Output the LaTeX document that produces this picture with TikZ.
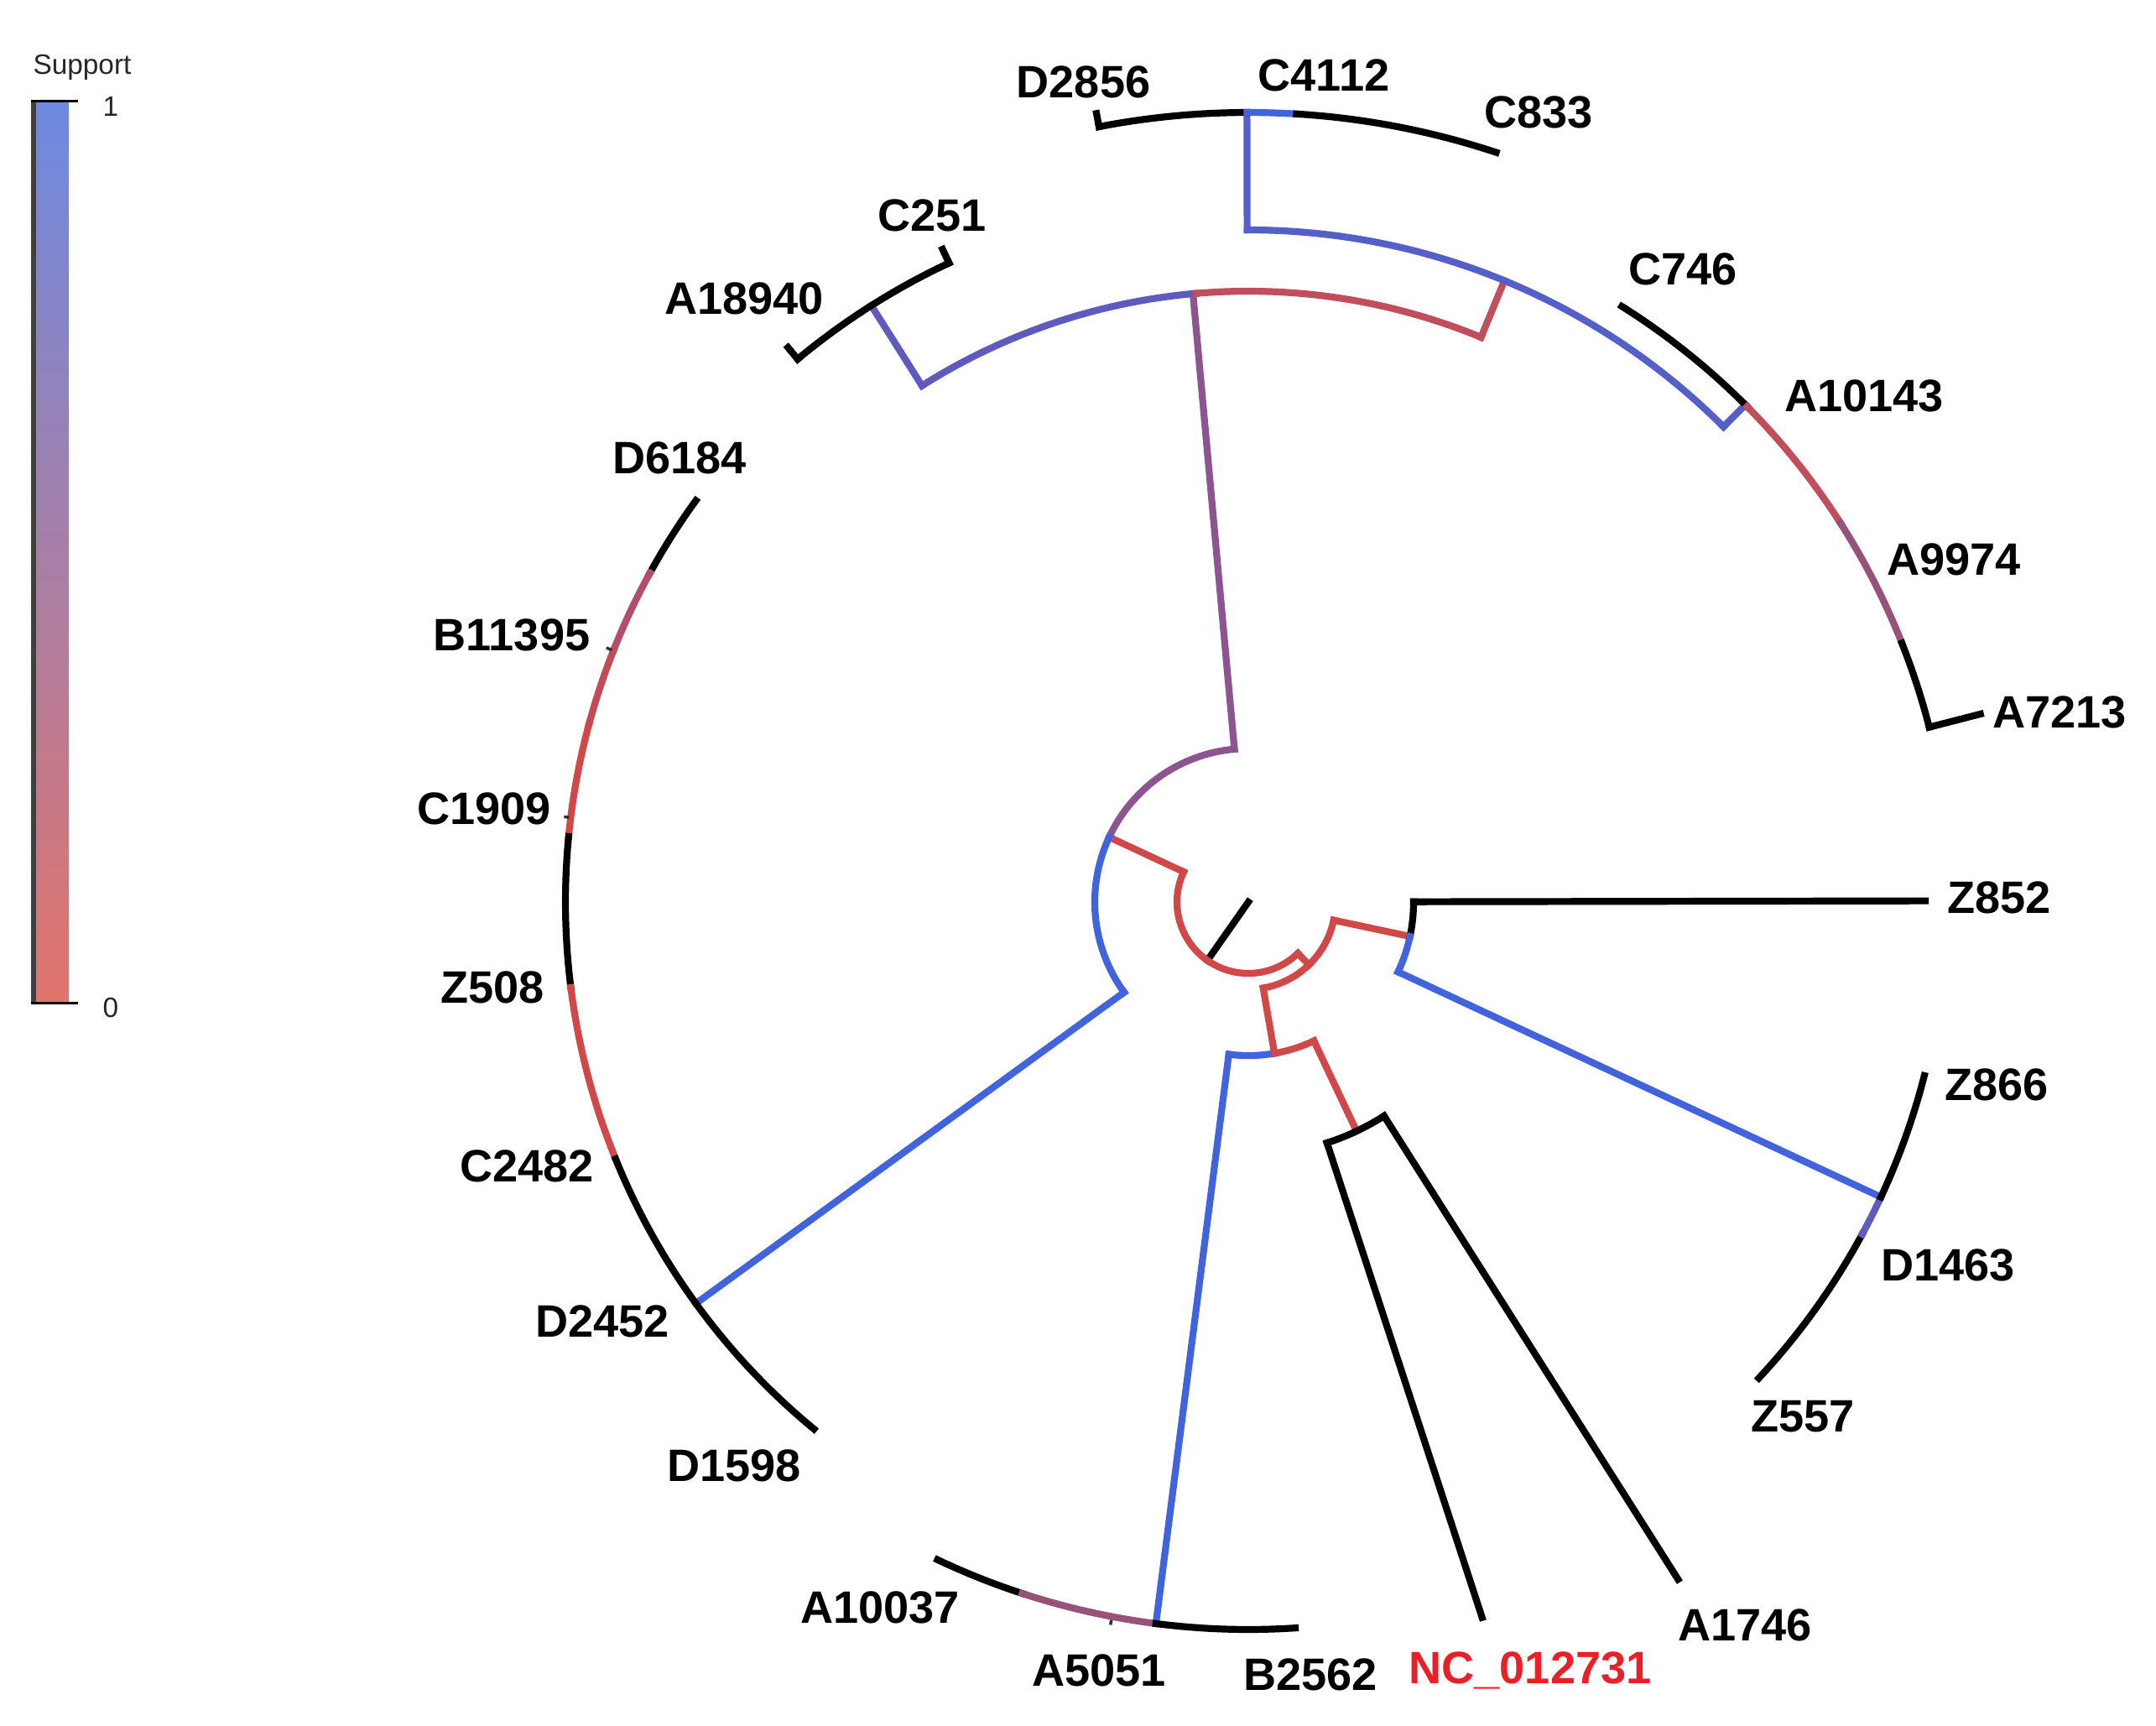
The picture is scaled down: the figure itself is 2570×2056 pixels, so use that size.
\documentclass[tikz,border=0pt]{standalone}
\usepackage{fontspec}
\setmainfont{Liberation Sans}
\definecolor{tblue}{RGB}{65,100,220}
\definecolor{tblueb}{RGB}{84,96,200}
\definecolor{tbp}{RGB}{95,90,190}
\definecolor{tpur}{RGB}{140,85,145}
\definecolor{tpur2}{RGB}{152,82,122}
\definecolor{tred}{RGB}{208,72,72}
\definecolor{tred2}{RGB}{192,78,92}
\definecolor{trp}{RGB}{178,78,105}
\definecolor{trp2}{RGB}{195,74,88}
\definecolor{nclab}{RGB}{232,32,40}
\definecolor{legtop}{RGB}{108,138,226}
\definecolor{legmid}{RGB}{163,126,170}
\definecolor{legbot}{RGB}{226,116,108}
\newcommand\tbr[4]{\draw[#1] (#2:#3) -- (#2:#4);}
\newcommand\tarc[4]{\draw[#1] (#2:#4) arc[start angle=#2, end angle=#3, radius=#4*0.1mm];}
\tikzset{
  br/.style={line width=0.82mm, line cap=rect},
  tick/.style={line width=0.35mm, black!80},
  lab/.style={font=\fontsize{15.4}{18}\selectfont\bfseries, inner sep=0pt},
  leg/.style={font=\fontsize{9.5}{11}\selectfont, inner sep=0pt, black!85}
}
\begin{document}
\begin{tikzpicture}[x=0.1mm,y=-0.1mm]
\useasboundingbox (0,0) rectangle (2570,2056);
% legend
\shade[top color=legtop, middle color=legmid, bottom color=legbot] (40,120) rectangle (82,1195);
\draw[black!75, line width=0.55mm] (40,120) -- (40,1195);
\draw[black, line width=0.3mm] (37,120) -- (93,120);
\draw[black, line width=0.3mm] (37,1195) -- (93,1195);
\node[leg] (legS) at (98,80) {Support};
\node[leg] (leg1) at (132,127) {1};
\node[leg] (leg0) at (132,1201) {0};
% tree
\begin{scope}[shift={(1488,1075)}, y=0.1mm]
% root and inner nodes
\tbr{br,black}{235}{0}{85}
\tarc{br,tred}{155}{314}{85}
\tbr{br,tred}{155}{85}{183}
\tbr{br,tred}{314}{85}{104}
\tarc{br,tred}{280}{348}{104}
% Z852 / D1463 clade
\tbr{br,tred}{348}{104}{197}
\tarc{br,black}{348}{360.1}{197}
\tarc{br,tblue}{335}{348}{197}
\tbr{br,black}{0.1}{197}{807}
\tbr{br,tblue}{335}{197}{831}
\tarc{br,black}{317}{331.6}{832}
\tarc{br,tbp}{331.6}{335}{832}
\tarc{br,black}{335}{345.6}{832}
% bottom clades
\tbr{br,tred}{279.8}{104}{183}
\tarc{br,tblue}{262.7}{279.8}{183}
\tarc{br,tred}{279.8}{295.3}{183}
\tbr{br,tblue}{262.7}{183}{867}
\tarc{br,black}{244.7}{251.9}{867}
\tarc{br,tpur2}{251.9}{262.7}{867}
\tarc{br,black}{262.7}{273.7}{867}
\tbr{tick}{259.2}{871}{877}
\tbr{br,tred}{295.3}{183}{302}
\tarc{br,black}{288.1}{302.4}{302}
\tbr{br,black}{288.1}{302}{897}
\tbr{br,black}{302.4}{302}{956}
% upper-left node
\tarc{br,tpur}{95.2}{155}{183}
\tarc{br,tblue}{155}{216}{183}
\tbr{br,tpur}{95.2}{183}{728}
\tbr{br,tblue}{216}{183}{814}
% left arc
\tarc{br,black}{144}{151.2}{814}
\tarc{br,trp}{151.2}{158.4}{814}
\tarc{br,trp2}{158.4}{165}{814}
\tarc{br,tred}{165}{174.5}{814}
\tarc{br,black}{174.5}{187.2}{814}
\tarc{br,tred}{187.2}{202.1}{814}
\tarc{br,black}{202.1}{230.5}{814}
\tbr{tick}{158.4}{816}{823}
\tbr{tick}{172.9}{816}{822}
% top clades
\tarc{br,tbp}{94.9}{122.3}{728}
\tarc{br,tred2}{67.6}{94.9}{728}
\tbr{br,tbp}{122.3}{728}{841}
\tarc{br,black}{115.1}{129.7}{841}
\tbr{br,black}{129.7}{841}{859}
\tbr{br,black}{115.1}{841}{859}
\tbr{br,tred2}{67.6}{728}{801}
\tarc{br,tblueb}{45}{90.1}{801}
\tbr{br,tblueb}{90.1}{801}{941}
\tarc{br,black}{90.1}{100.9}{941}
\tarc{br,tblue}{86.5}{90.1}{941}
\tarc{br,black}{71.7}{86.5}{941}
\tbr{br,black}{100.9}{941}{957}
\tbr{br,tblueb}{45}{801}{838}
\tarc{br,black}{44.8}{57.9}{838}
\tarc{br,tred2}{32.6}{44.8}{838}
\tarc{br,tpur2}{21.6}{32.6}{838}
\tarc{br,black}{14.4}{21.6}{838}
\tbr{br,black}{14.4}{838}{901}
\end{scope}
% labels
\node[lab] (D2856) at (1291.5,98) {D2856};
\node[lab] (C4112) at (1578,90) {C4112};
\node[lab] (C833) at (1834,134) {C833};
\node[lab] (C251) at (1111,257) {C251};
\node[lab] (A18940) at (887,356) {A18940};
\node[lab] (C746) at (2006,321) {C746};
\node[lab] (A10143) at (2222,472) {A10143};
\node[lab] (A9974) at (2329,667) {A9974};
\node[lab] (A7213) at (2455,849) {A7213};
\node[lab] (D6184) at (810,546) {D6184};
\node[lab] (B11395) at (610,757) {B11395};
\node[lab] (C1909) at (577,964) {C1909};
\node[lab] (Z508) at (587,1177) {Z508};
\node[lab] (C2482) at (628,1390) {C2482};
\node[lab] (D2452) at (718,1575) {D2452};
\node[lab] (D1598) at (875,1747) {D1598};
\node[lab] (Z852) at (2383,1070) {Z852};
\node[lab] (Z866) at (2380,1293) {Z866};
\node[lab] (D1463) at (2322,1508) {D1463};
\node[lab] (Z557) at (2149,1688) {Z557};
\node[lab] (A1746) at (2080,1937) {A1746};
\node[lab, text=nclab] (NC) at (1824,1991) {NC\_012731};
\node[lab] (B2562) at (1562,1996) {B2562};
\node[lab] (A5051) at (1310,1991) {A5051};
\node[lab] (A10037) at (1049,1916) {A10037};
\end{tikzpicture}
\end{document}
